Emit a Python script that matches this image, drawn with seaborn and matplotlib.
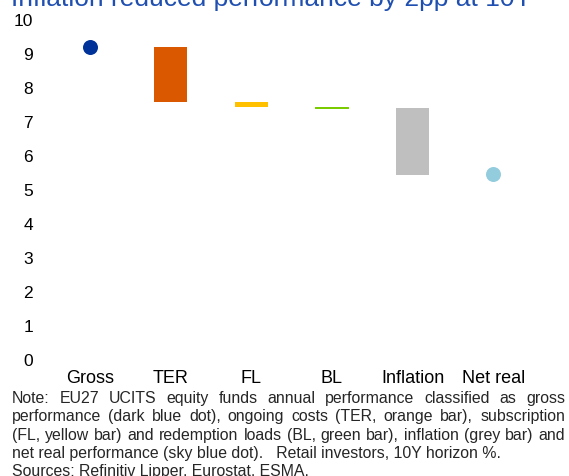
import numpy as np
import pandas as pd
import matplotlib.pyplot as plt
import seaborn as sns

# chart data
categories = ["Gross", "TER", "FL", "BL", "Inflation", "Net real"]
dot_cats = ["Gross", "Net real"]
dot_values = [9.17, 5.45]
bar_cats = ["TER", "FL", "BL", "Inflation"]
bar_tops = [9.17, 7.57, 7.40, 7.38]
bar_bottoms = [7.56, 7.41, 7.36, 5.41]
y_ticks = list(range(0, 11))

title = "Inflation reduced performance by 2pp at 10Y"
note_justified = [
    "Note: EU27 UCITS equity funds annual performance classified as gross",
    "performance (dark blue dot), ongoing costs (TER, orange bar), subscription",
    "(FL, yellow bar) and redemption loads (BL, green bar), inflation (grey bar) and",
]
note_plain = [
    "net real performance (sky blue dot).   Retail investors, 10Y horizon %.",
    "Sources: Refinitiv Lipper, Eurostat, ESMA.",
]

colors = {"Gross": "#003399", "TER": "#DA5900", "FL": "#FFC000", "BL": "#7ACC00",
          "Inflation": "#BFBFBF", "Net real": "#93CDDD"}

sns.set_style("white")
plt.rcParams["font.family"] = ["Liberation Sans", "DejaVu Sans"]

W, H = 569, 477
fig = plt.figure(figsize=(W / 100, H / 100), dpi=100)
ax = fig.add_axes([49.6 / W, (H - 360) / H, (533.7 - 49.6) / W, 340 / H])

bars = pd.DataFrame({"cat": bar_cats, "top": bar_tops, "bottom": bar_bottoms})
bars["height"] = bars["top"] - bars["bottom"]
for _, row in bars.iterrows():
    sns.barplot(x=[row["cat"]], y=[row["height"]], bottom=row["bottom"], order=categories,
                color=colors[row["cat"]], width=0.41, errorbar=None, linewidth=0,
                saturation=1, ax=ax)

dots = pd.DataFrame({"cat": dot_cats, "value": dot_values})
sns.stripplot(data=dots, x="cat", y="value", hue="cat", order=categories,
              palette=colors, jitter=False, size=10.8, linewidth=0, legend=False, ax=ax)

ax.set_xlim(-0.5, len(categories) - 0.5)
ax.set_ylim(0, 10)
ax.set_yticks(y_ticks)
ax.set_xlabel("")
ax.set_ylabel("")
sns.despine(ax=ax, left=True, bottom=True)
ax.tick_params(axis="y", length=0, pad=12, labelsize=12.5, labelcolor="#000000")
ax.tick_params(axis="x", length=0, pad=7, labelsize=13, labelcolor="#000000")

fig.text(11 / W, 1 - 6 / H, title, fontsize=19, color="#1F4FB0", va="baseline")

renderer = fig.canvas.get_renderer()
note_size = 11.4
x0, x1 = 12, 565
baselines = [403.3, 421.5, 439.7, 458.0, 476.2]
for line, yb in zip(note_justified, baselines):
    words = line.split(" ")
    arts = [fig.text(0, 1 - yb / H, w, fontsize=note_size, va="baseline") for w in words]
    widths = [a.get_window_extent(renderer).width for a in arts]
    gap = (x1 - x0 - sum(widths)) / (len(words) - 1)
    x = x0
    for a, w in zip(arts, widths):
        a.set_x(x / W)
        x += w + gap
for line, yb in zip(note_plain, baselines[3:]):
    fig.text(x0 / W, 1 - yb / H, line, fontsize=note_size, va="baseline")

fig.savefig("out.png", dpi=100)
